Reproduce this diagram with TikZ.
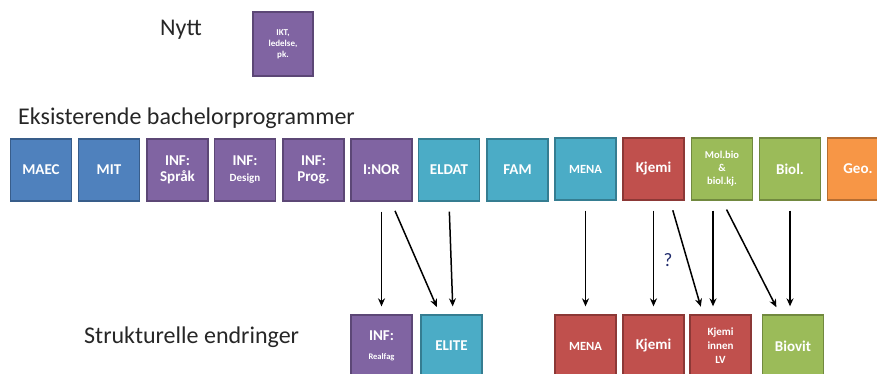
\documentclass[tikz,border=0pt]{standalone}
\usepackage{fontspec}
\setmainfont{Carlito}
\usetikzlibrary{arrows.meta}
\definecolor{cblue}{HTML}{4F81BD}\definecolor{cblueD}{HTML}{385D8A}
\definecolor{cpurp}{HTML}{8064A2}\definecolor{cpurpD}{HTML}{5C4776}
\definecolor{cteal}{HTML}{4BACC6}\definecolor{ctealD}{HTML}{357D91}
\definecolor{cred}{HTML}{C0504D}\definecolor{credD}{HTML}{8C3836}
\definecolor{cgreen}{HTML}{9BBB59}\definecolor{cgreenD}{HTML}{71893F}
\definecolor{corange}{HTML}{F79646}\definecolor{corangeD}{HTML}{B66D31}
\definecolor{qmark}{HTML}{1F2A6B}
\tikzset{
  prog/.style={draw, line width=1.3pt, minimum width=61pt, minimum height=62pt,
    inner sep=1pt, align=center, text=white, font=\bfseries\fontsize{15}{16}\selectfont},
  blueprog/.style={prog, fill=cblue, draw=cblueD},
  purpprog/.style={prog, fill=cpurp, draw=cpurpD},
  tealprog/.style={prog, fill=cteal, draw=ctealD},
  redprog/.style={prog, fill=cred, draw=credD},
  greenprog/.style={prog, fill=cgreen, draw=cgreenD},
  orangeprog/.style={prog, fill=corange, draw=corangeD},
  heading/.style={anchor=base west, inner sep=0pt, text=black!85, font=\fontsize{24}{26}\selectfont},
  arr/.style={-{Stealth[length=8pt,width=7pt]}, line width=1.5pt, black,
    shorten <=10pt, shorten >=8pt},
}
\begin{document}
\begin{tikzpicture}[x=1pt, y=-1pt]
\useasboundingbox (0,0) rectangle (877,374);

% headings
\node[heading] (hnew) at (160,36) {Nytt};
\node[heading] (hold) at (18,125) {Eksisterende bachelorprogrammer};
\node[heading] (hstr) at (84,343) {Strukturelle endringer};

% new programme
\node[purpprog, minimum width=60pt, minimum height=64pt,
  font=\bfseries\fontsize{9}{11}\selectfont] (ikt) at (283,44) {IKT,\\ledelse,\\pk.};

% existing programmes
\node[blueprog] (maec) at (41,170) {MAEC};
\node[blueprog] (mit) at (109,170) {MIT};
\node[purpprog] (sprak) at (177.5,170) {INF:\\Språk};
\node[purpprog] (design) at (245,170) {INF:\\{\fontsize{11}{13}\selectfont Design}};
\node[purpprog] (prog) at (313.5,170) {INF:\\Prog.};
\node[purpprog] (inor) at (381.5,170) {I:NOR};
\node[tealprog] (eldat) at (449,170) {ELDAT};
\node[tealprog] (fam) at (517.5,170) {FAM};
\node[tealprog, font=\bfseries\fontsize{12.5}{14}\selectfont] (mena) at (585.5,169) {MENA};
\node[redprog] (kjemi) at (653.5,169) {Kjemi};
\node[greenprog, font=\bfseries\fontsize{10.5}{13}\selectfont] (mol) at (722,169) {Mol.bio\\\&\\biol.kj.};
\node[greenprog] (biol) at (790,169) {Biol.};
\node[orangeprog] (geo) at (858,169) {Geo.};

% restructured programmes
\node[purpprog] (infb) at (381.5,346) {INF:\\[3pt]{\fontsize{8.5}{9}\selectfont Realfag}};
\node[tealprog] (elite) at (451.5,346) {ELITE};
\node[redprog, font=\bfseries\fontsize{12.5}{14}\selectfont] (menab) at (585.5,346) {MENA};
\node[redprog] (kjemib) at (653.5,346) {Kjemi};
\node[redprog, font=\bfseries\fontsize{11}{14}\selectfont] (lv) at (720.5,346) {Kjemi\\innen\\LV};
\node[greenprog] (biovit) at (793,346) {Biovit};

% transitions
\draw[arr] (inor.south) -- (infb.north);
\draw[arr] ([xshift=9.5pt]inor.south) -- ([xshift=-11.5pt]elite.north);
\draw[arr] (eldat.south) -- ([xshift=1.5pt]elite.north);
\draw[arr] (mena.south) -- (menab.north);
\draw[arr] (kjemi.south) -- (kjemib.north);
\draw[arr] ([xshift=16.5pt]kjemi.south) -- ([xshift=-17.5pt]lv.north);
\draw[arr] ([xshift=-9pt]mol.south) -- ([xshift=-7.5pt]lv.north);
\draw[arr] (mol.south) -- ([xshift=-13pt]biovit.north);
\draw[arr] (biol.south) -- ([xshift=-3pt]biovit.north);

\node[text=qmark, font=\fontsize{19}{20}\selectfont] (q) at (668,260) {?};
\end{tikzpicture}
\end{document}
